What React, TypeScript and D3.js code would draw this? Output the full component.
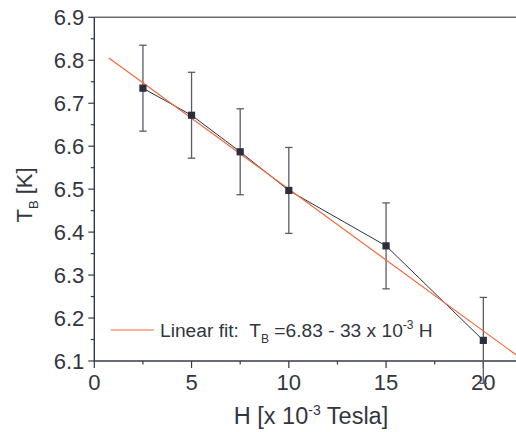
import React from "react";
import * as d3 from "d3";

const fieldH = [2.5, 5, 7.5, 10, 15, 20];
const tempTB = [6.735, 6.672, 6.587, 6.497, 6.368, 6.148];
const errTB = [0.1, 0.1, 0.1, 0.1, 0.1, 0.1];
const fitIntercept = 6.83;
const fitSlope = -0.033;
const fitRange = [0.75, 21.7];
const xTicks = [0, 5, 10, 15, 20];
const xMinorTicks = [2.5, 7.5, 12.5, 17.5];
const yTicks = [6.1, 6.2, 6.3, 6.4, 6.5, 6.6, 6.7, 6.8, 6.9];
const yMinorTicks = [6.15, 6.25, 6.35, 6.45, 6.55, 6.65, 6.75, 6.85];

const W = 516, H = 432;
const font = "'Liberation Sans', Arial, sans-serif";
const axisColor = "#333a46";
const textColor = "#333640";

export default function App() {
  const x = d3.scaleLinear().domain([0, 21.68]).range([94.3, 516]);
  const y = d3.scaleLinear().domain([6.1, 6.9]).range([361, 17.3]);
  const line = d3.line<number>().x((_, i) => x(fieldH[i])).y((d) => y(d));
  const fitLine = d3
    .line<number>()
    .x((h) => x(h))
    .y((h) => y(fitIntercept + fitSlope * h));

  return (
    <svg
      width={W}
      height={H}
      style={{ position: "absolute", left: 0, top: 0, background: "#fff" }}
      fontFamily={font}
    >
      {/* top border */}
      <line x1={x(0)} x2={W} y1={y(6.9)} y2={y(6.9)} stroke="#6b6e74" strokeWidth={1.6} />
      {/* axes */}
      <line x1={x(0)} x2={x(0)} y1={y(6.9)} y2={y(6.1)} stroke={axisColor} strokeWidth={1.4} />
      <line x1={x(0)} x2={W} y1={y(6.1)} y2={y(6.1)} stroke={axisColor} strokeWidth={1.4} />
      {yTicks.map((t) => (
        <g key={"y" + t}>
          <line x1={x(0) - 6} x2={x(0)} y1={y(t)} y2={y(t)} stroke={axisColor} strokeWidth={1.2} />
          <text x={x(0) - 10} y={y(t)} dy="0.36em" textAnchor="end" fontSize={22} fill={textColor}>
            {t.toFixed(1)}
          </text>
        </g>
      ))}
      {yMinorTicks.map((t) => (
        <line key={"ym" + t} x1={x(0) - 3.5} x2={x(0)} y1={y(t)} y2={y(t)} stroke={axisColor} strokeWidth={1.2} />
      ))}
      {xTicks.map((t) => (
        <g key={"x" + t}>
          <line x1={x(t)} x2={x(t)} y1={y(6.1)} y2={y(6.1) + 7} stroke={axisColor} strokeWidth={1.2} />
          <text x={x(t)} y={389.5} textAnchor="middle" fontSize={22} fill={textColor}>
            {t}
          </text>
        </g>
      ))}
      {xMinorTicks.map((t) => (
        <line key={"xm" + t} x1={x(t)} x2={x(t)} y1={y(6.1)} y2={y(6.1) + 3.5} stroke={axisColor} strokeWidth={1.2} />
      ))}
      {/* axis titles */}
      <text x={311} y={424} textAnchor="middle" fontSize={23.5} fill={textColor}>
        H [x 10
        <tspan dy={-9} fontSize={14}>-3</tspan>
        <tspan dy={9}> Tesla]</tspan>
      </text>
      <text transform="translate(32,195) rotate(-90)" textAnchor="middle" fontSize={22} fill={textColor}>
        T
        <tspan dy={6} fontSize={13}>B</tspan>
        <tspan dy={-6}> [K]</tspan>
      </text>
      {/* error bars */}
      {fieldH.map((h, i) => (
        <g key={"e" + i} stroke="#595c63" strokeWidth={1.3}>
          <line x1={x(h)} x2={x(h)} y1={y(tempTB[i] - errTB[i])} y2={y(tempTB[i] + errTB[i])} />
          <line x1={x(h) - 3.7} x2={x(h) + 3.7} y1={y(tempTB[i] + errTB[i])} y2={y(tempTB[i] + errTB[i])} />
          <line x1={x(h) - 3.7} x2={x(h) + 3.7} y1={y(tempTB[i] - errTB[i])} y2={y(tempTB[i] - errTB[i])} />
        </g>
      ))}
      {/* data line */}
      <path d={line(tempTB) || ""} fill="none" stroke="#2e3240" strokeWidth={1} />
      {/* fit line */}
      <path d={fitLine(fitRange) || ""} fill="none" stroke="#f06a3a" strokeWidth={1.2} />
      {/* markers */}
      {fieldH.map((h, i) => (
        <rect key={"m" + i} x={x(h) - 3.6} y={y(tempTB[i]) - 3.6} width={7.2} height={7.2} fill="#2b2f3d" />
      ))}
      {/* legend */}
      <line x1={110.7} x2={154} y1={330} y2={330} stroke="#f06a3a" strokeWidth={1.2} />
      <text x={160} y={337.3} fontSize={19.2} fill={textColor} xmlSpace="preserve">
        Linear fit:  T
        <tspan dy={6} fontSize={12}>B</tspan>
        <tspan dy={-6}> =6.83 - 33 x 10</tspan>
        <tspan dy={-8} fontSize={12}>-3</tspan>
        <tspan dy={8}> H</tspan>
      </text>
    </svg>
  );
}
